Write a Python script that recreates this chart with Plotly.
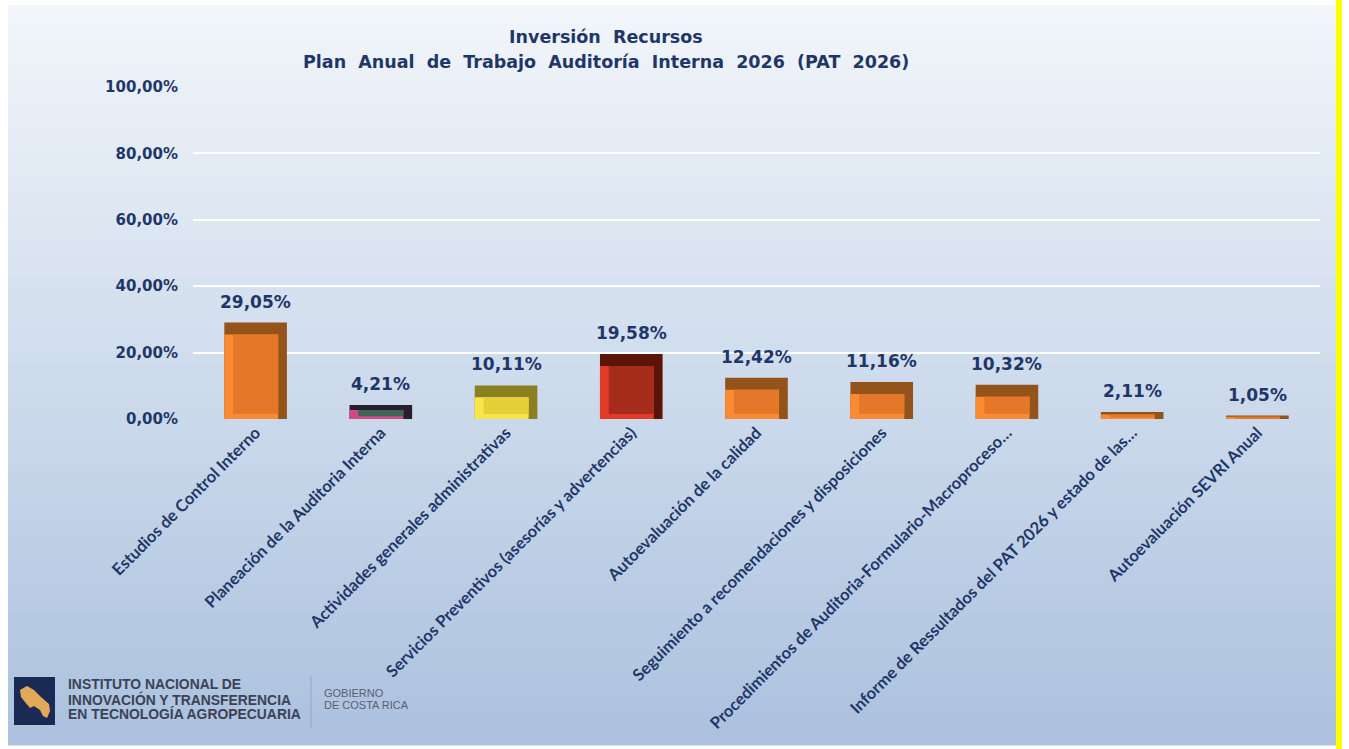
import plotly.graph_objects as go

categories = [
    "Estudios de Control Interno",
    "Planeación de la Auditoria Interna",
    "Actividades generales administrativas",
    "Servicios Preventivos (asesorías y advertencias)",
    "Autoevaluación de la calidad",
    "Seguimiento a recomendaciones y disposiciones",
    "Procedimientos de Auditoria-Formulario-Macroproceso…",
    "Informe de Ressultados del PAT 2026 y estado de las…",
    "Autoevaluación SEVRI Anual",
]
values = [29.05, 4.21, 10.11, 19.58, 12.42, 11.16, 10.32, 2.11, 1.05]
value_labels = ["29,05%", "4,21%", "10,11%", "19,58%", "12,42%", "11,16%",
                "10,32%", "2,11%", "1,05%"]
# bevel colours: dark (top/right), light (left/bottom), face
dark_colors = ["#94531A", "#2B1E2C", "#8A8020", "#5C1409", "#94531A",
               "#94531A", "#94531A", "#94531A", "#94531A"]
light_colors = ["#FA8B33", "#D4488A", "#F8E648", "#E23C28", "#FA8B33",
                "#FA8B33", "#FA8B33", "#FA8B33", "#FA8B33"]
face_colors = ["#E5772A", "#3D6656", "#E6D03A", "#A52B1B", "#E5772A",
               "#E5772A", "#E5772A", "#E5772A", "#E5772A"]
y_ticks = [0, 20, 40, 60, 80, 100]
y_tick_labels = ["0,00%", "20,00%", "40,00%", "60,00%", "80,00%", "100,00%"]

W, H = 1349, 749
L, R, T, B = 193, 29, 87, 330
PW, PH = W - L - R, H - T - B

def px(x):
    return (x - L) / PW

def py(y):
    return (H - B - y) / PH

NAVY = "#1F3768"
UNIT = 100 / PH  # data units per pixel on y

top_inset = [min(12 * UNIT, v * 0.35) for v in values]
bot_inset = [min(5 * UNIT, v * 0.2) for v in values]
left_h = [v - t for v, t in zip(values, top_inset)]
inner_h = [v - t - b for v, t, b in zip(values, top_inset, bot_inset)]

fig = go.Figure()
fig.add_trace(go.Bar(
    x=categories, y=values, width=0.5, offset=-0.25,
    marker=dict(color=dark_colors, line=dict(width=0)), hoverinfo="skip",
))
fig.add_trace(go.Bar(
    x=categories, y=left_h, width=0.43, offset=-0.25,
    marker=dict(color=light_colors, line=dict(width=0)), hoverinfo="skip",
))
fig.add_trace(go.Bar(
    x=categories, y=inner_h, base=bot_inset, width=0.36, offset=-0.18,
    marker=dict(color=face_colors, line=dict(width=0)), hoverinfo="skip",
))

shapes = []
top_c = (242, 246, 251)
bot_c = (172, 194, 223)
n = 60
y0p, y1p = 5, 745
for i in range(n):
    t = i / (n - 1)
    c = tuple(int(top_c[k] + (bot_c[k] - top_c[k]) * t) for k in range(3))
    ya = y0p + (y1p - y0p) * i / n
    yb = y0p + (y1p - y0p) * (i + 1) / n + 0.5
    shapes.append(dict(type="rect", xref="paper", yref="paper",
                       x0=px(8), x1=px(1336), y0=py(ya), y1=py(yb),
                       fillcolor="rgb(%d,%d,%d)" % c, line=dict(width=0),
                       layer="below"))
shapes.append(dict(type="rect", xref="paper", yref="paper",
                   x0=px(1336), x1=px(1342), y0=py(0), y1=py(749),
                   fillcolor="#FFFF00", line=dict(width=0), layer="below"))
shapes.append(dict(type="rect", xref="paper", yref="paper",
                   x0=px(14), x1=px(55), y0=py(725), y1=py(677),
                   fillcolor="#1B2A55", line=dict(width=0), layer="above"))
pts = [(20, 690), (27, 686), (34, 690), (41, 697), (49, 704), (50, 711),
       (47, 718), (43, 716), (40, 710), (34, 706), (30, 708), (25, 702), (21, 697)]
path = "M " + " L ".join("%.5f,%.5f" % (px(a), py(b)) for a, b in pts) + " Z"
shapes.append(dict(type="path", xref="paper", yref="paper", path=path,
                   fillcolor="#E2A95A", line=dict(width=0), layer="above"))
shapes.append(dict(type="line", xref="paper", yref="paper",
                   x0=px(311), x1=px(311), y0=py(676), y1=py(728),
                   line=dict(color="#9AA5B5", width=1), layer="above"))

annotations = []
for c, v, lab in zip(categories, values, value_labels):
    annotations.append(dict(x=c, y=v, xref="x", yref="y", text=lab,
                            showarrow=False, yanchor="bottom", yshift=9,
                            font=dict(family="DejaVu Sans", size=17, color=NAVY,
                                      weight="bold")))
for txt, yy in [("Inversión  Recursos", 37),
                ("Plan  Anual  de  Trabajo  Auditoría  Interna  2026  (PAT  2026)", 62)]:
    annotations.append(dict(x=px(606), y=py(yy), xref="paper", yref="paper",
                            text=txt, showarrow=False, xanchor="center",
                            yanchor="middle",
                            font=dict(family="DejaVu Sans", size=17.5, color=NAVY,
                                      weight="bold")))
for txt, yy in [("INSTITUTO NACIONAL DE", 684), ("INNOVACIÓN Y TRANSFERENCIA", 699),
                ("EN TECNOLOGÍA AGROPECUARIA", 714)]:
    annotations.append(dict(x=px(66), y=py(yy), xref="paper", yref="paper",
                            text=txt, showarrow=False, xanchor="left", yanchor="middle",
                            font=dict(family="Liberation Sans", size=13.9,
                                      color="#3C4256", weight="bold")))
for txt, yy in [("GOBIERNO", 693), ("DE COSTA RICA", 705)]:
    annotations.append(dict(x=px(322), y=py(yy), xref="paper", yref="paper",
                            text=txt, showarrow=False, xanchor="left", yanchor="middle",
                            font=dict(family="Liberation Sans", size=11,
                                      color="#5A6070")))

fig.update_layout(
    width=W, height=H,
    margin=dict(l=L, r=R, t=T, b=B, pad=0),
    paper_bgcolor="white", plot_bgcolor="rgba(0,0,0,0)",
    showlegend=False, barmode="overlay",
    shapes=shapes, annotations=annotations,
)
fig.update_xaxes(
    tickangle=-45, showgrid=False, showline=False, ticks="",
    tickfont=dict(family="Lato", size=16.5, color=NAVY, weight="bold"),
)
fig.update_yaxes(
    range=[0, 100], tickvals=y_ticks, ticktext=y_tick_labels,
    showgrid=True, gridcolor="white", gridwidth=1.5, zeroline=False,
    showline=False, ticks="", ticklabelstandoff=14,
    tickfont=dict(family="DejaVu Sans", size=15, color=NAVY, weight="bold"),
)

fig.write_html("out.html", config={"displayModeBar": False},
               post_script="document.body.style.margin='0';document.body.style.overflow='hidden';")
